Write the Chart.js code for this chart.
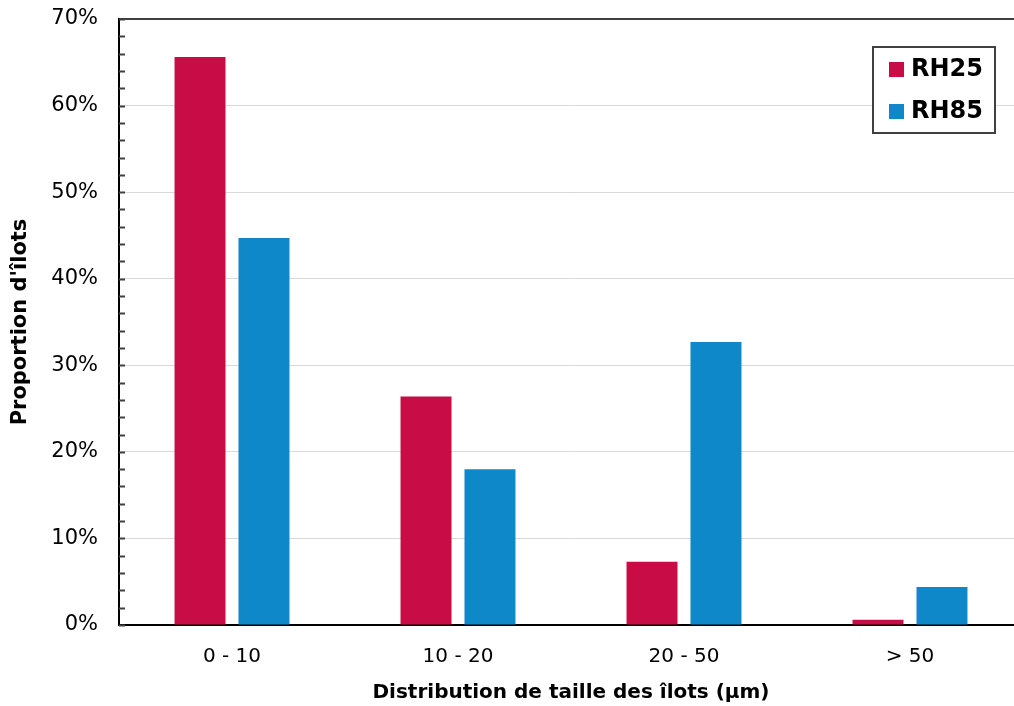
<!DOCTYPE html>
<html>
<head>
<meta charset="utf-8">
<script src="https://cdn.jsdelivr.net/npm/chart.js@4"></script>
<style>
    html, body { margin: 0; padding: 0; background: #fff; overflow: hidden; }
    #wrap { width: 1023px; height: 706px; }
</style>
</head>
<body>
<div id="wrap"><canvas id="myChart"></canvas></div>
<script>
// data
const categories = ['0 - 10', '10 - 20', '20 - 50', '> 50'];
const seriesNames = ['RH25', 'RH85'];
const rh25 = [65.6, 26.4, 7.3, 0.6];
const rh85 = [44.7, 18.0, 32.7, 4.4];
const yMax = 70;
const yStep = 10;
const minorStep = 2;

const red = '#c80c46';
const blue = '#0e88c8';
const fontFamily = '"DejaVu Sans", Verdana, sans-serif';

// small inside tick marks on the y axis (every 2%)
const minorTicks = {
    id: 'minorTicks',
    afterDraw(chart) {
        const ctx = chart.ctx;
        const y = chart.scales.y;
        const left = chart.chartArea.left;
        ctx.save();
        ctx.strokeStyle = '#404040';
        ctx.lineWidth = 2;
        for (let v = 0; v <= yMax; v += minorStep) {
            const py = Math.round(y.getPixelForValue(v)) + 0.5;
            ctx.beginPath();
            ctx.moveTo(left, py);
            ctx.lineTo(left + 6, py);
            ctx.stroke();
        }
        ctx.restore();
    }
};

// boxed legend inside the plot, top right
const boxLegend = {
    id: 'boxLegend',
    afterDraw(chart) {
        const ctx = chart.ctx;
        ctx.save();
        ctx.fillStyle = '#fff';
        ctx.fillRect(873, 47, 122, 86);
        ctx.strokeStyle = '#404040';
        ctx.lineWidth = 2;
        ctx.strokeRect(873, 47, 122, 86);
        ctx.font = 'bold 24px ' + fontFamily;
        ctx.textBaseline = 'middle';
        chart.data.datasets.forEach((ds, i) => {
            const cy = 70 + i * 42;
            ctx.fillStyle = ds.backgroundColor;
            ctx.fillRect(889, cy - 8, 15, 15);
            ctx.fillStyle = '#000';
            ctx.fillText(ds.label, 911, cy);
        });
        ctx.restore();
    }
};

const ctx = document.getElementById('myChart').getContext('2d');
const myChart = new Chart(ctx, { // eslint-disable-line
    type: 'bar',
    data: {
        labels: categories,
        datasets: [
            {
                label: seriesNames[0],
                data: rh25,
                backgroundColor: red,
                borderWidth: 0
            },
            {
                label: seriesNames[1],
                data: rh85,
                backgroundColor: blue,
                borderWidth: 0
            }
        ]
    },
    options: {
        responsive: true,
        maintainAspectRatio: false,
        animation: false,
        layout: { padding: { top: 19, right: 0, left: 0, bottom: 0 } },
        categoryPercentage: 0.566,
        barPercentage: 0.797,
        plugins: {
            legend: { display: false },
            tooltip: { enabled: false }
        },
        scales: {
            x: {
                grid: { drawOnChartArea: false, drawTicks: false },
                border: { color: '#000', width: 2 },
                ticks: {
                    color: '#000',
                    padding: 20,
                    font: { family: fontFamily, size: 20 }
                },
                title: {
                    display: true,
                    text: 'Distribution de taille des îlots (µm)',
                    color: '#000',
                    font: { family: fontFamily, size: 20, weight: 'bold' },
                    padding: { top: 0, bottom: 1 }
                },
                afterFit(scale) {
                    scale.height = 81;
                    scale.paddingLeft = 0;
                    scale.paddingRight = 0;
                }
            },
            y: {
                min: 0,
                max: yMax,
                ticks: {
                    stepSize: yStep,
                    color: '#000',
                    padding: 21,
                    font: { family: fontFamily, size: 21 },
                    callback: (v) => v + '%'
                },
                grid: {
                    drawTicks: false,
                    color: (c) => c.tick && c.tick.value === yMax ? '#404040' : '#d9d9d9',
                    lineWidth: (c) => c.tick && c.tick.value === yMax ? 2 : 1
                },
                border: { color: '#000', width: 2 },
                title: {
                    display: true,
                    text: 'Proportion d\'îlots',
                    color: '#000',
                    font: { family: fontFamily, size: 21, weight: 'bold' },
                    padding: { top: 8, bottom: 0 }
                },
                afterFit(scale) {
                    scale.width = 119;
                    scale.paddingTop = 0;
                    scale.paddingBottom = 0;
                }
            }
        }
    },
    plugins: [minorTicks, boxLegend]
});
</script>
</body>
</html>
